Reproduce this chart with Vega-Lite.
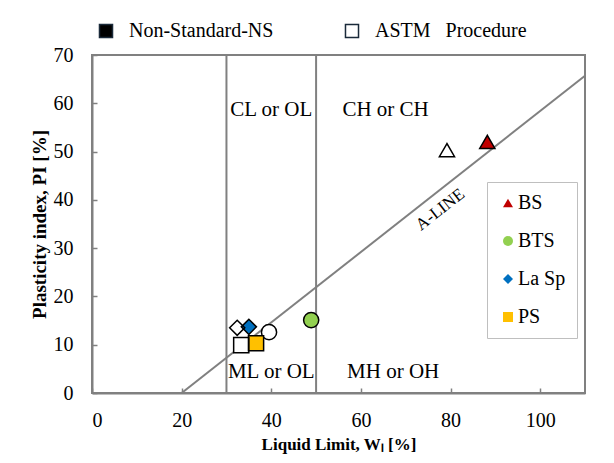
{
  "$schema": "https://vega.github.io/schema/vega-lite/v6.json",
  "width": 493,
  "height": 338,
  "autosize": "none",
  "padding": {"left": 92, "top": 55, "right": 29, "bottom": 70},
  "background": "white",
  "config": {
    "font": "Liberation Serif",
    "view": {"stroke": "#808080", "strokeWidth": 2},
    "axis": {"grid": false, "domainColor": "#808080", "domainWidth": 2, "tickColor": "#808080", "tickWidth": 1.5, "labelFont": "Liberation Serif", "labelFontSize": 20, "labelColor": "black", "titleFont": "Liberation Serif", "titleColor": "black", "titleFontWeight": "bold"},
    "legend": {"labelFont": "Liberation Serif", "labelFontSize": 20, "labelColor": "black"}
  },
  "resolve": {"legend": {"shape": "independent", "fill": "independent"}},
  "datasets": {
    "pts": [
      {"series": "BS", "procedure": "Non-Standard-NS", "LL": 88.2, "PI": 52.0},
      {"series": "BS", "procedure": "ASTM\u00a0\u00a0\u00a0Procedure", "LL": 79.2, "PI": 50.3},
      {"series": "BTS", "procedure": "Non-Standard-NS", "LL": 48.9, "PI": 15.1},
      {"series": "BTS", "procedure": "ASTM\u00a0\u00a0\u00a0Procedure", "LL": 39.5, "PI": 12.6},
      {"series": "La Sp", "procedure": "Non-Standard-NS", "LL": 35.0, "PI": 13.7},
      {"series": "La Sp", "procedure": "ASTM\u00a0\u00a0\u00a0Procedure", "LL": 32.4, "PI": 13.5},
      {"series": "PS", "procedure": "Non-Standard-NS", "LL": 36.6, "PI": 10.3},
      {"series": "PS", "procedure": "ASTM\u00a0\u00a0\u00a0Procedure", "LL": 33.3, "PI": 9.9}
    ],
    "vlines": [{"LL": 30, "y0": 0, "y1": 70}, {"LL": 50, "y0": 0, "y1": 70}],
    "aline": [{"LL": 20, "PI": 0}, {"LL": 110, "PI": 65.7}],
    "labels": [
      {"LL": 40, "PI": 58.6, "text": "CL or OL"},
      {"LL": 65.5, "PI": 58.6, "text": "CH or CH"},
      {"LL": 40, "PI": 4.4, "text": "ML or OL"},
      {"LL": 67.2, "PI": 4.4, "text": "MH or OH"}
    ],
    "aname": [{"LL": 77.7, "PI": 38.0, "text": "A-LINE"}]
  },
  "layer": [
    {
      "data": {"name": "vlines"},
      "mark": {"type": "rule", "color": "#808080", "strokeWidth": 2},
      "encoding": {
        "x": {"field": "LL", "type": "quantitative", "scale": {"domain": [0, 110], "nice": false}, "axis": {"values": [0, 20, 40, 60, 80, 100], "tickSize": -5, "labelPadding": 22, "labelFontSize": 20, "title": "Liquid Limit, Wₗ [%]", "titleFontSize": 17, "titlePadding": 6}},
        "y": {"field": "y0", "type": "quantitative", "scale": {"domain": [0, 70], "nice": false}, "axis": {"values": [0, 10, 20, 30, 40, 50, 60, 70], "tickSize": -5, "labelPadding": 24, "labelFontSize": 20, "title": "Plasticity index, PI [%]", "titleFontSize": 19, "titlePadding": 4}},
        "y2": {"field": "y1"}
      }
    },
    {
      "data": {"name": "aline"},
      "mark": {"type": "line", "color": "#808080", "strokeWidth": 2, "clip": true},
      "encoding": {
        "x": {"field": "LL", "type": "quantitative"},
        "y": {"field": "PI", "type": "quantitative"}
      }
    },
    {
      "data": {"name": "labels"},
      "mark": {"type": "text", "fontSize": 21, "font": "Liberation Serif", "color": "black"},
      "encoding": {
        "x": {"field": "LL", "type": "quantitative"},
        "y": {"field": "PI", "type": "quantitative"},
        "text": {"field": "text"}
      }
    },
    {
      "data": {"name": "aname"},
      "mark": {"type": "text", "fontSize": 17, "font": "Liberation Serif", "color": "black", "angle": -38},
      "encoding": {
        "x": {"field": "LL", "type": "quantitative"},
        "y": {"field": "PI", "type": "quantitative"},
        "text": {"field": "text"}
      }
    },
    {
      "data": {"name": "pts"},
      "mark": {"type": "square", "size": 0, "strokeWidth": 0, "opacity": 0},
      "encoding": {
        "x": {"field": "LL", "type": "quantitative"},
        "y": {"field": "PI", "type": "quantitative"},
        "color": {"field": "procedure", "type": "nominal", "scale": {"domain": ["Non-Standard-NS", "ASTM\u00a0\u00a0\u00a0Procedure"], "range": ["black", "white"]},
          "legend": {"title": null, "orient": "none", "direction": "horizontal", "legendX": 4, "legendY": -34, "columnPadding": 68, "symbolType": "square", "symbolSize": 170, "symbolOpacity": 1, "symbolStrokeColor": "#1a2a3a", "symbolStrokeWidth": 1.5, "labelOffset": 13, "labelFontSize": 20,
            "encode": {"symbols": {"update": {"opacity": {"value": 1}, "stroke": {"value": "#1a2a3a"}, "strokeWidth": {"value": 1.5}}}}}}
      }
    },
    {
      "data": {"name": "pts"},
      "mark": {"type": "point", "filled": true, "fill": "white", "size": 230, "strokeWidth": 0, "opacity": 1},
      "encoding": {
        "x": {"field": "LL", "type": "quantitative"},
        "y": {"field": "PI", "type": "quantitative"},
        "shape": {"field": "series", "type": "nominal", "legend": null}
      }
    },
    {
      "data": {"name": "pts"},
      "mark": {"type": "point", "filled": true, "size": 230, "stroke": "black", "strokeWidth": 1.5, "opacity": 1},
      "encoding": {
        "x": {"field": "LL", "type": "quantitative"},
        "y": {"field": "PI", "type": "quantitative"},
        "shape": {"field": "series", "type": "nominal", "scale": {"domain": ["BS", "BTS", "La Sp", "PS"], "range": ["triangle-up", "circle", "diamond", "square"]},
          "legend": {"title": null, "orient": "none", "legendX": 395, "legendY": 127, "strokeColor": "#bfbfbf", "padding": 11, "rowPadding": 18, "symbolSize": 100, "symbolStrokeColor": "black", "symbolStrokeWidth": 1, "labelOffset": 0, "labelFontSize": 20, "fillColor": "white",
            "encode": {"symbols": {"update": {"stroke": {"value": "black"}, "strokeWidth": {"value": 1}, "size": {"value": 100}}}}}},
        "fill": {"field": "series", "type": "nominal", "scale": {"domain": ["BS", "BTS", "La Sp", "PS"], "range": ["#c00000", "#92d050", "#0070c0", "#ffc000"]},
          "legend": {"title": null, "orient": "none", "legendX": 395, "legendY": 127, "strokeColor": "#bfbfbf", "padding": 11, "rowPadding": 18, "symbolSize": 100, "symbolStrokeColor": "black", "symbolStrokeWidth": 1, "labelOffset": 0, "labelFontSize": 20, "fillColor": "white",
            "encode": {"symbols": {"update": {"stroke": {"value": "black"}, "strokeWidth": {"value": 1}, "size": {"value": 100}}}}}},
        "fillOpacity": {"field": "procedure", "type": "nominal", "scale": {"domain": ["Non-Standard-NS", "ASTM\u00a0\u00a0\u00a0Procedure"], "range": [1, 0]}, "legend": null}
      }
    }
  ]
}
